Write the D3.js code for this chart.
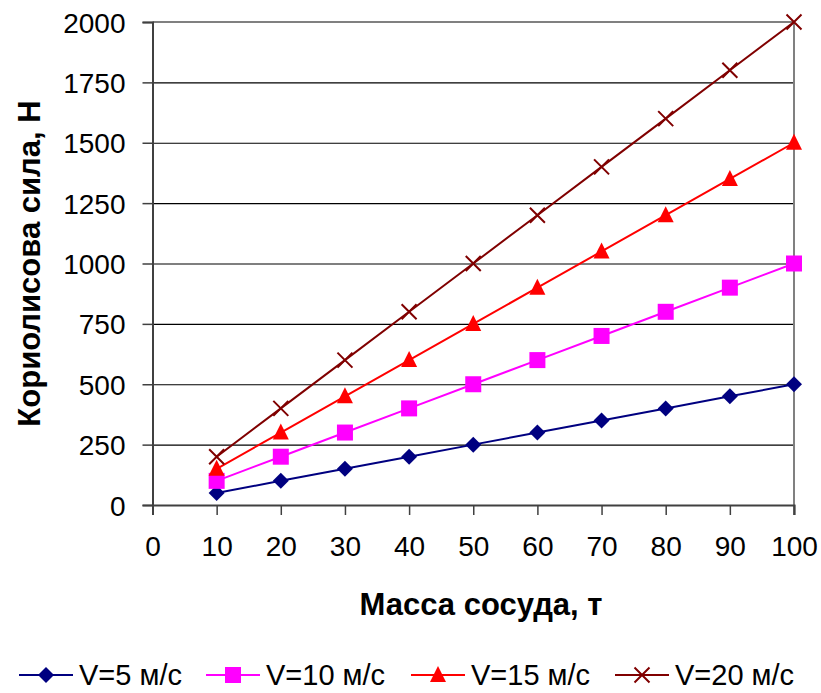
<!DOCTYPE html>
<html>
<head>
<meta charset="utf-8">
<script src="https://cdn.jsdelivr.net/npm/d3@7"></script>
<style>
  body { margin: 0; background: #fff; }
  text { font-family: "Liberation Sans", Arial, sans-serif; }
</style>
</head>
<body>
<svg id="chart" width="821" height="693"></svg>
<script>
const masses = [10, 20, 30, 40, 50, 60, 70, 80, 90, 100];
const v5 = [50, 100, 150, 200, 250, 300, 350, 400, 450, 500];
const v10 = [100, 200, 300, 400, 500, 600, 700, 800, 900, 1000];
const v15 = [150, 300, 450, 600, 750, 900, 1050, 1200, 1350, 1500];
const v20 = [200, 400, 600, 800, 1000, 1200, 1400, 1600, 1800, 2000];
const seriesNames = ["V=5 м/с", "V=10 м/с", "V=15 м/с", "V=20 м/с"];
const xTicks = [0, 10, 20, 30, 40, 50, 60, 70, 80, 90, 100];
const yTicks = [0, 250, 500, 750, 1000, 1250, 1500, 1750, 2000];

const svg = d3.select("svg#chart");
const margin = { top: 22, right: 27, bottom: 188, left: 152.5 };
const width = +svg.attr("width");
const height = +svg.attr("height");
const chartWidth = width - margin.left - margin.right;
const chartHeight = height - margin.top - margin.bottom;

const xScale = d3.scaleLinear().domain([0, 100]).range([0, chartWidth]);
const yScale = d3.scaleLinear().domain([0, 2000]).range([chartHeight, 0]);

const series = [
    { name: seriesNames[0], values: v5, color: "#000080", marker: "diamond" },
    { name: seriesNames[1], values: v10, color: "#FF00FF", marker: "square" },
    { name: seriesNames[2], values: v15, color: "#FF0000", marker: "triangle" },
    { name: seriesNames[3], values: v20, color: "#800000", marker: "cross" }
];

const chart = svg.append("g").attr("transform", `translate(${margin.left},${margin.top})`);

// gridlines
chart.append("g")
    .attr("class", "gridlines")
    .call(d3.axisLeft(yScale).tickValues(yTicks).tickSize(-chartWidth).tickFormat(""))
    .call(g => g.select(".domain").remove())
    .call(g => g.selectAll("line").attr("stroke", "#000").attr("stroke-width", 1.2));

// plot frame (top and right in grey)
chart.append("path")
    .attr("d", `M0,0H${chartWidth}V${chartHeight + 10}`)
    .attr("fill", "none").attr("stroke", "#808080").attr("stroke-width", 2);

// y axis
chart.append("g")
    .attr("class", "y axis")
    .call(d3.axisLeft(yScale).tickValues(yTicks).tickSize(10).tickPadding(17).tickFormat(d3.format("d")))
    .call(g => g.select(".domain").attr("stroke", "#404040").attr("stroke-width", 2))
    .call(g => g.selectAll("line").attr("stroke", "#404040").attr("stroke-width", 1.5))
    .call(g => g.selectAll("text").style("font-size", "28px").attr("fill", "#000").attr("dy", "0.36em"));

// x axis
chart.append("g")
    .attr("class", "x axis")
    .attr("transform", `translate(0,${chartHeight})`)
    .call(d3.axisBottom(xScale).tickValues(xTicks).tickSize(10).tickPadding(21))
    .call(g => g.select(".domain").attr("stroke", "#404040").attr("stroke-width", 2))
    .call(g => g.selectAll("line").attr("stroke", "#404040").attr("stroke-width", 1.5))
    .call(g => g.selectAll("text").style("font-size", "28px").attr("fill", "#000"));

// markers
function drawMarker(g, type, color) {
    if (type === "diamond") {
        g.append("path").attr("d", "M0,-8L8,0L0,8L-8,0Z").attr("fill", color);
    } else if (type === "square") {
        g.append("rect").attr("x", -8).attr("y", -8).attr("width", 16).attr("height", 16).attr("fill", color);
    } else if (type === "triangle") {
        g.append("path").attr("d", "M0,-9L8,7L-8,7Z").attr("fill", color);
    } else {
        g.append("path").attr("d", "M-7.5,-7.5L7.5,7.5M-7.5,7.5L7.5,-7.5").attr("stroke", color).attr("stroke-width", 2);
    }
}

const line = d3.line().x((d, i) => xScale(masses[i])).y(d => yScale(d));

series.forEach(s => {
    chart.append("path")
        .datum(s.values)
        .attr("fill", "none")
        .attr("stroke", s.color)
        .attr("stroke-width", 2)
        .attr("d", line);
    chart.selectAll(null).data(s.values).join("g")
        .attr("transform", (d, i) => `translate(${xScale(masses[i])},${yScale(d)})`)
        .each(function () { drawMarker(d3.select(this), s.marker, s.color); });
});

// axis titles
svg.append("text")
    .attr("x", 481)
    .attr("y", 615)
    .attr("text-anchor", "middle")
    .style("font-size", "31px").attr("font-weight", "bold")
    .text("Масса сосуда, т");

svg.append("text")
    .attr("transform", `translate(40,${margin.top + chartHeight / 2}) rotate(-90)`)
    .attr("text-anchor", "middle")
    .style("font-size", "31px").attr("font-weight", "bold")
    .text("Кориолисова сила, Н");

// legend
const legendX = [19, 206, 411, 615];
const legend = svg.append("g").attr("class", "legend");
series.forEach((s, i) => {
    const g = legend.append("g").attr("transform", `translate(${legendX[i]},675)`);
    g.append("line").attr("x1", 0).attr("x2", 54).attr("stroke", s.color).attr("stroke-width", 2);
    drawMarker(g.append("g").attr("transform", "translate(27,0)"), s.marker, s.color);
    g.append("text").attr("x", 60).attr("y", 10).style("font-size", "29px").text(s.name);
});
</script>
</body>
</html>
